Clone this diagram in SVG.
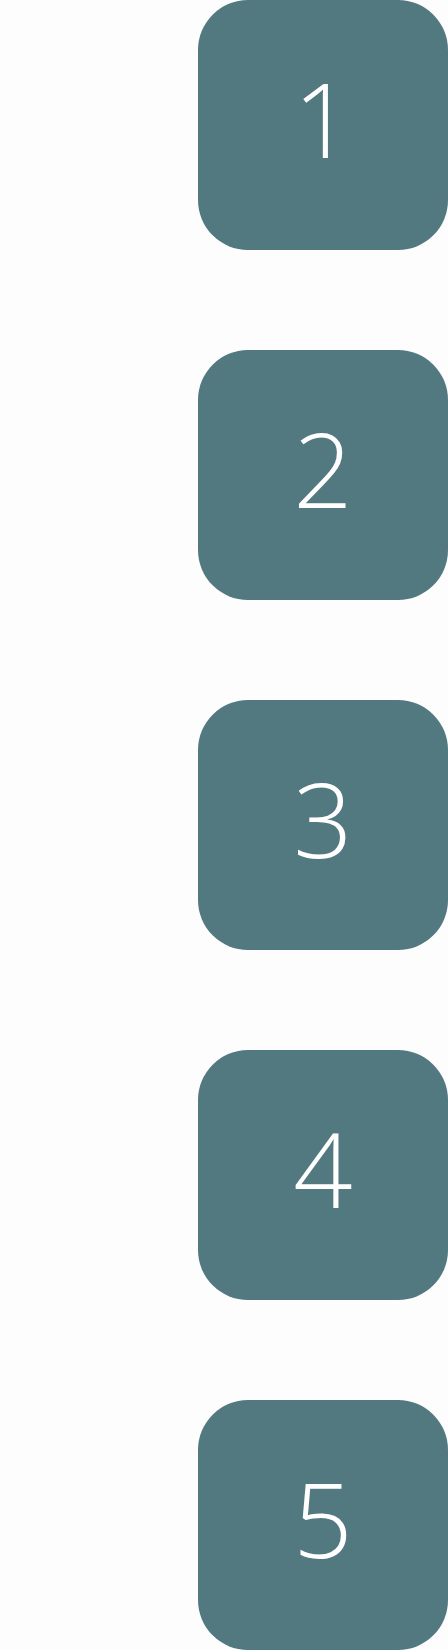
<svg xmlns="http://www.w3.org/2000/svg" width="448" height="1650" viewBox="0 0 448 1650">
<style>
.box{fill:#527880}
.lbl{fill:#ffffff;font-family:"Open Sans","Noto Sans","Liberation Sans",sans-serif;font-weight:300;font-size:104px;text-anchor:middle}
</style>
<rect width="448" height="1650" fill="#fdfdfd"/>
<g id="node1"><rect class="box" x="198" y="0" width="250" height="250" rx="50"/><text class="lbl" x="323" y="158">1</text></g>
<g id="node2"><rect class="box" x="198" y="350" width="250" height="250" rx="50"/><text class="lbl" x="323" y="508">2</text></g>
<g id="node3"><rect class="box" x="198" y="700" width="250" height="250" rx="50"/><text class="lbl" x="323" y="858">3</text></g>
<g id="node4"><rect class="box" x="198" y="1050" width="250" height="250" rx="50"/><text class="lbl" x="323" y="1208">4</text></g>
<g id="node5"><rect class="box" x="198" y="1400" width="250" height="250" rx="50"/><text class="lbl" x="323" y="1558">5</text></g>
<g id="connectors"></g>
</svg>
